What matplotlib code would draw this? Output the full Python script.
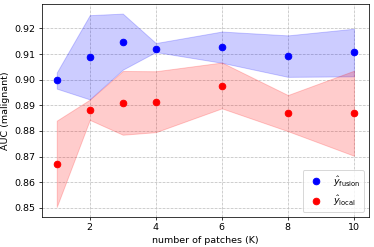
import matplotlib
matplotlib.use("Agg")
import matplotlib.pyplot as plt

# number of patches
k = [1, 2, 3, 4, 6, 8, 10]

# y_fusion: mean and band
fusion = [0.8998, 0.9087, 0.9149, 0.9121, 0.9128, 0.9092, 0.9109]
fusion_hi = [0.9028, 0.9252, 0.9258, 0.9143, 0.9188, 0.9173, 0.9199]
fusion_lo = [0.8965, 0.8923, 0.9039, 0.9108, 0.9066, 0.9011, 0.9013]

# y_local: mean and band
local = [0.8671, 0.8881, 0.8909, 0.8913, 0.8977, 0.8870, 0.8868]
local_hi = [0.8840, 0.8922, 0.9034, 0.9033, 0.9067, 0.8940, 0.9035]
local_lo = [0.8503, 0.8843, 0.8785, 0.8795, 0.8888, 0.8799, 0.8703]

# rendered at a low dpi so default sizes come out scaled down
fig = plt.figure(figsize=(5.5, 3.6324), dpi=68)
ax = fig.add_axes([0.112, 0.123, 0.874, 0.861])

ax.fill_between(k, fusion_lo, fusion_hi, color="blue", alpha=0.2)
ax.fill_between(k, local_lo, local_hi, color="red", alpha=0.2)
ax.plot(k, fusion, "o", color="blue", ms=7, label=r"$\hat{y}_{\mathrm{fusion}}$")
ax.plot(k, local, "o", color="red", ms=7, label=r"$\hat{y}_{\mathrm{local}}$")

ax.set_xticks([2, 4, 6, 8, 10])
ax.set_yticks([0.85, 0.86, 0.87, 0.88, 0.89, 0.90, 0.91, 0.92])
ax.grid(True, linestyle="--", color="#c0c0c0")
ax.set_axisbelow(True)
ax.set_xlabel("number of patches (K)")
ax.set_ylabel("AUC (malignant)")
ax.legend(loc="lower right")

fig.savefig("out.png", dpi=68)
